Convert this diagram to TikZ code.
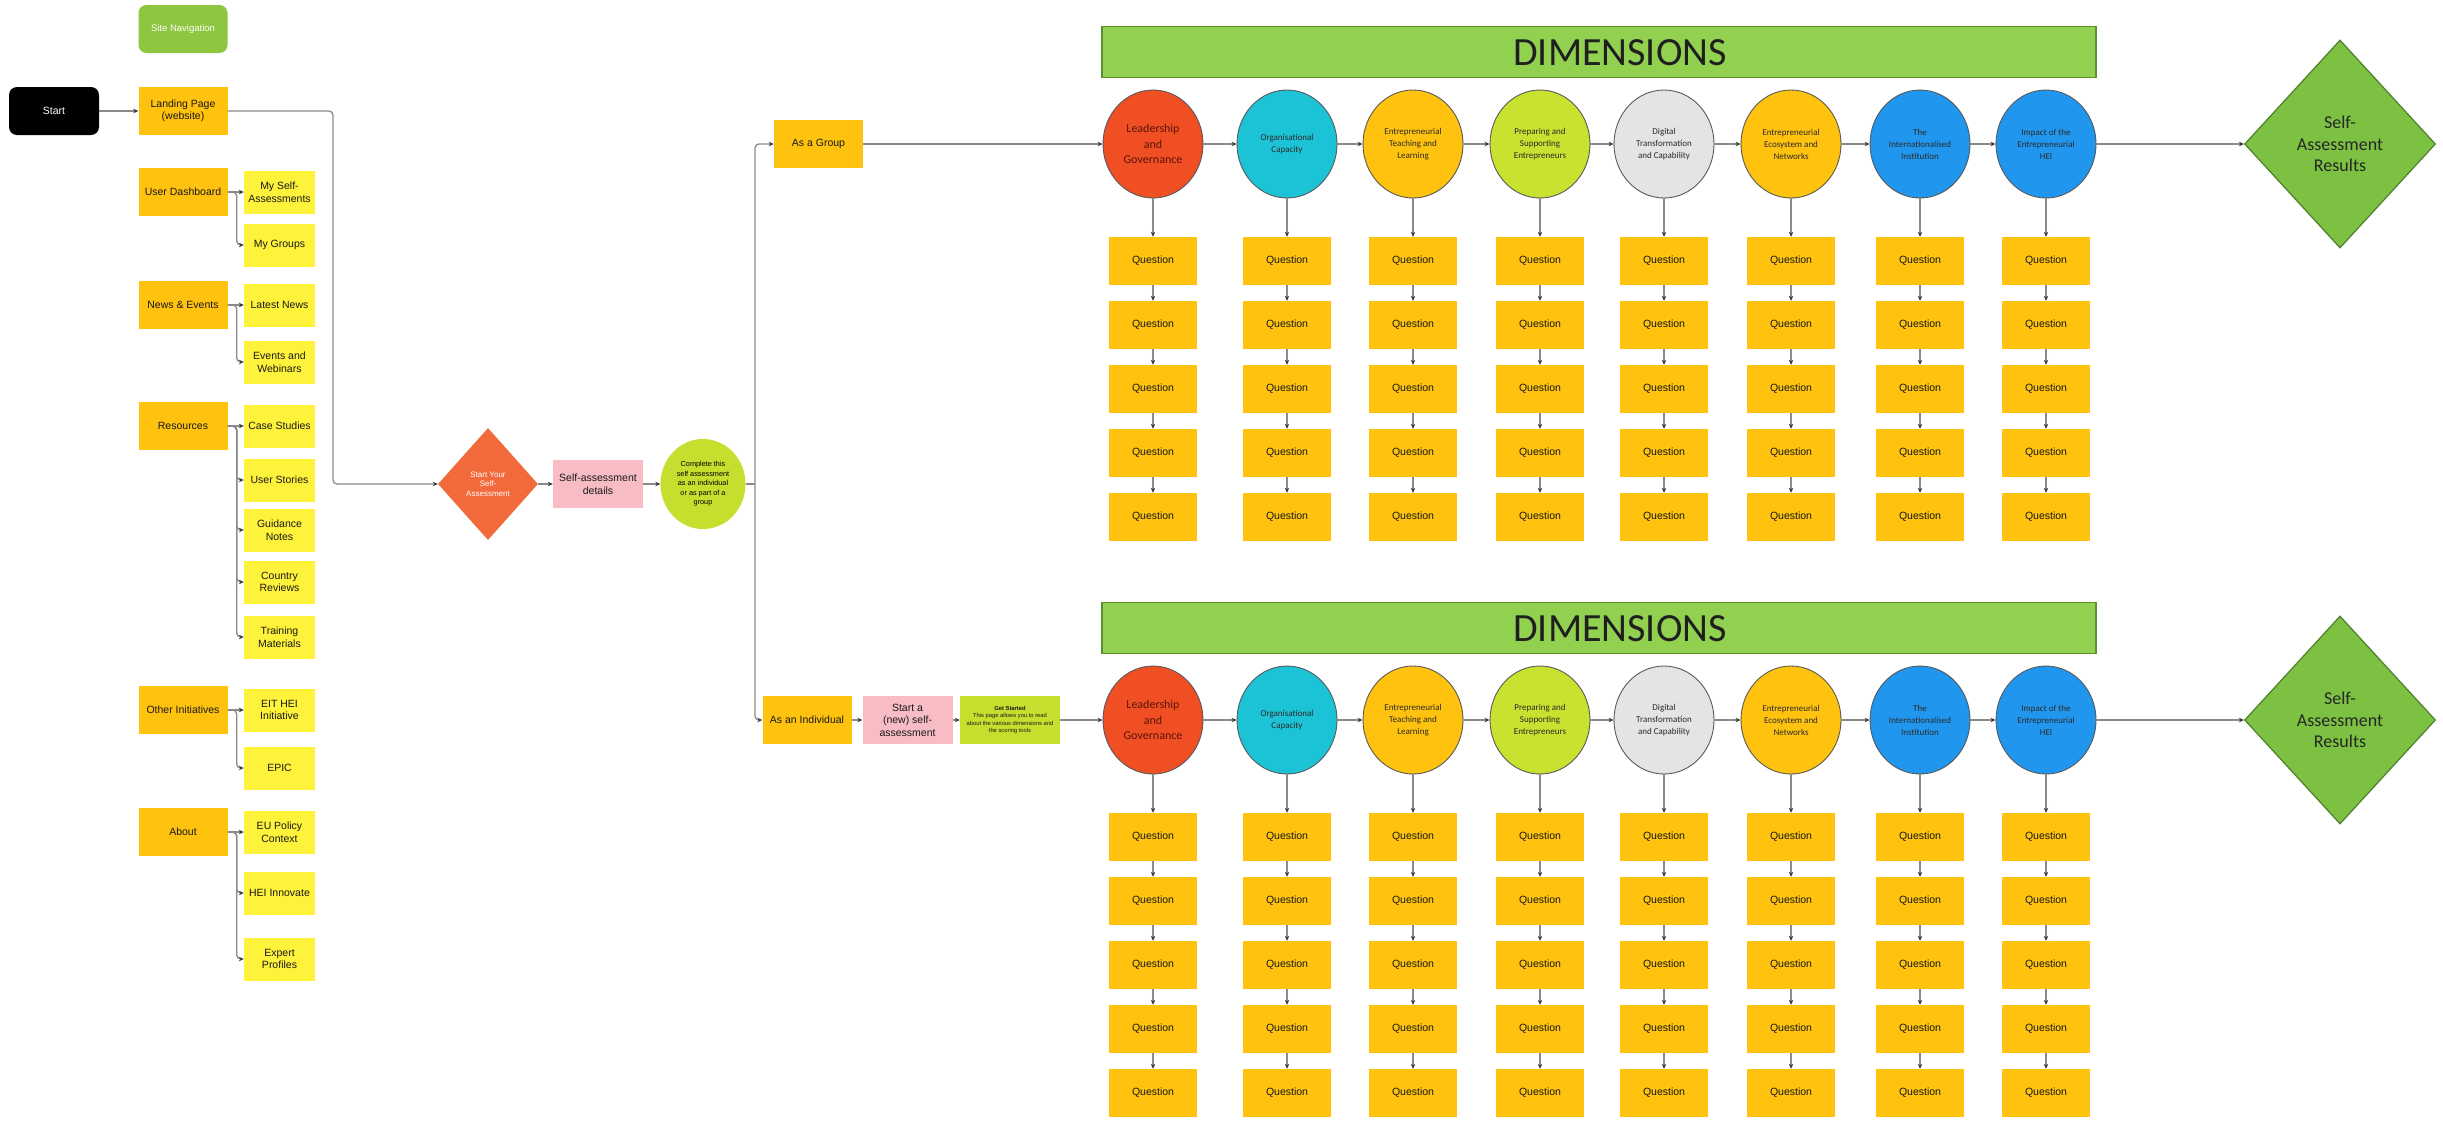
\documentclass[tikz,border=0pt]{standalone}
\usepackage{fontspec}
\setmainfont{Liberation Sans}
\newfontfamily\calibri{Carlito}
\usetikzlibrary{shapes.geometric,arrows.meta,calc}

\definecolor{gold}{HTML}{FFC20E}
\definecolor{lemon}{HTML}{FFF23A}
\definecolor{navgreen}{HTML}{8DC63F}
\definecolor{flame}{HTML}{F26A3B}
\definecolor{blush}{HTML}{F8BCC5}
\definecolor{lime}{HTML}{C6DF2E}
\definecolor{dimred}{HTML}{F04E23}
\definecolor{dimcyan}{HTML}{1CC3D6}
\definecolor{dimgold}{HTML}{FFC20E}
\definecolor{dimlime}{HTML}{C9E12F}
\definecolor{dimgray}{HTML}{E4E4E4}
\definecolor{dimblue}{HTML}{2196EE}
\definecolor{bargreen}{HTML}{92D050}
\definecolor{barrim}{HTML}{5E8F34}
\definecolor{resgreen}{HTML}{7CC142}
\definecolor{resrim}{HTML}{4F7F2A}
\definecolor{wire}{HTML}{8A8A8A}
\definecolor{tip}{HTML}{3A3A3A}
\definecolor{leadtxt}{HTML}{5C1508}
\definecolor{dimtxt}{HTML}{2A2A2A}

\tikzset{
  base/.style={rectangle, inner sep=1pt, align=center, text=black!90,
    font=\fontsize{10.5}{12.5}\selectfont},
  box/.style={base, fill=gold, minimum width=89pt, minimum height=48pt},
  sub/.style={base, fill=lemon, minimum width=71pt, minimum height=43pt},
  qbox/.style={base, fill=gold, minimum width=88pt, minimum height=48pt},
  pinkbox/.style={base, fill=blush, minimum width=90pt, minimum height=48pt},
  startbox/.style={base, fill=black, text=white, rounded corners=8pt,
    minimum width=90pt, minimum height=48pt},
  navbox/.style={base, fill=navgreen, text=white, rounded corners=8pt,
    minimum width=89pt, minimum height=48pt, font=\fontsize{9.5}{11}\selectfont},
  dim/.style={ellipse, draw=black!65, line width=0.9pt, minimum width=100pt,
    minimum height=108pt, inner sep=0pt, align=center},
  bar/.style={rectangle, fill=bargreen, draw=barrim, line width=1.2pt,
    minimum width=994pt, minimum height=51pt},
  bartitle/.style={inner sep=0pt, text=black!88,
    font=\calibri\fontsize{40}{44}\selectfont},
  result/.style={diamond, fill=resgreen, draw=resrim, line width=1.2pt,
    minimum width=191pt, minimum height=208pt, inner sep=0pt, align=center,
    text=black!85, font=\calibri\fontsize{18}{21.5}\selectfont},
  conn/.style={draw=wire, line width=1.3pt, rounded corners=4pt},
  arr/.style={conn, -{Stealth[length=5pt,width=4.5pt,color=tip]}},
}

% one row of dimensions: circles, question chains, title bar and result
\newcommand\dimrow[3]{%
  \node[bar] (#1bar) at (1599,#2-92) {};
  \node[bartitle] (#1bartitle) at (1620,#2-91) {DIMENSIONS};
  \foreach \k/\x/\c/\tc/\fs/\ls/\t in {
    1/1153/dimred/leadtxt/12/15.5/{Leadership\\and\\Governance},
    2/1287/dimcyan/dimtxt/9/12/{Organisational\\Capacity},
    3/1413/dimgold/dimtxt/9/12/{Entrepreneurial\\Teaching and\\Learning},
    4/1540/dimlime/dimtxt/9/12/{Preparing and\\Supporting\\Entrepreneurs},
    5/1664/dimgray/dimtxt/9/12/{Digital\\Transformation\\and Capability},
    6/1791/dimgold/dimtxt/9/12/{Entrepreneurial\\Ecosystem and\\Networks},
    7/1920/dimblue/dimtxt/9/12/{The\\Internationalised\\Institution},
    8/2046/dimblue/dimtxt/9/12/{Impact of the\\Entrepreneurial\\HEI}}{
    \node[dim, fill=\c, text=\tc, font={\calibri\fontsize{\fs}{\ls}\selectfont}]
      (#1c\k) at (\x,#2) {\t};
    \foreach \r in {1,...,5}{
      \node[qbox] (#1q\k-\r) at (\x,{#3+64*(\r-1)}) {Question};
    }
    \draw[arr] (#1c\k) -- (#1q\k-1);
    \foreach \r [count=\n from 2] in {1,...,4}{
      \draw[arr] (#1q\k-\r) -- (#1q\k-\n);
    }
  }
  \foreach \k [count=\n from 2] in {1,...,7}{
    \draw[arr] (#1c\k) -- (#1c\n);
  }
  \node[result] (#1res) at (2340,#2) {Self-\\Assessment\\Results};
  \draw[arr] (#1c8) -- (#1res);
}

\begin{document}
\begin{tikzpicture}[x=1pt,y=-1pt]
\fill[white] (0,0) rectangle (2443,1120);
\useasboundingbox (0,0) rectangle (2443,1120);

% site navigation tree
\node[navbox] (nav) at (183,29) {Site Navigation};
\node[startbox] (start) at (54,111) {Start};
\node[box] (landing) at (183,111) {Landing Page\\(website)};

\node[box] (dash) at (183,192) {User Dashboard};
\node[sub] (mysa) at (279.5,192) {My Self-\\Assessments};
\node[sub] (mygr) at (279.5,245) {My Groups};

\node[box] (news) at (183,305) {News \& Events};
\node[sub] (latest) at (279.5,305) {Latest News};
\node[sub] (events) at (279.5,362) {Events and\\Webinars};

\node[box] (resources) at (183,426) {Resources};
\node[sub] (cases) at (279.5,426) {Case Studies};
\node[sub] (stories) at (279.5,480) {User Stories};
\node[sub] (guide) at (279.5,530) {Guidance\\Notes};
\node[sub] (country) at (279.5,582) {Country\\Reviews};
\node[sub] (train) at (279.5,637) {Training\\Materials};

\node[box] (other) at (183,710) {Other Initiatives};
\node[sub] (eit) at (279.5,710) {EIT HEI\\Initiative};
\node[sub] (epic) at (279.5,768) {EPIC};

\node[box] (about) at (183,832) {About};
\node[sub] (policy) at (279.5,832) {EU Policy\\Context};
\node[sub] (innov) at (279.5,893) {HEI Innovate};
\node[sub] (expert) at (279.5,959) {Expert\\Profiles};

\draw[arr] (start) -- (landing);
\draw[arr] (dash) -- (mysa);
\draw[arr] (dash.east) -- ++(9,0) |- (mygr.west);
\draw[arr] (news) -- (latest);
\draw[arr] (news.east) -- ++(9,0) |- (events.west);
\draw[arr] (resources) -- (cases);
\foreach \c in {stories,guide,country,train}
  \draw[arr] (resources.east) -- ++(9,0) |- (\c.west);
\draw[arr] (other) -- (eit);
\draw[arr] (other.east) -- ++(9,0) |- (epic.west);
\draw[arr] (about) -- (policy);
\foreach \c in {innov,expert}
  \draw[arr] (about.east) -- ++(9,0) |- (\c.west);

% self-assessment entry
\node[diamond, fill=flame, text=white, minimum width=100pt, minimum height=112pt,
  inner sep=0pt, align=center, font=\fontsize{8}{9.7}\selectfont]
  (begin) at (488,484) {Start Your\\Self-\\Assessment};
\node[pinkbox] (details) at (598,484) {Self-assessment\\details};
\node[ellipse, fill=lime, minimum width=85pt, minimum height=90pt, inner sep=0pt,
  align=center, font=\fontsize{7.3}{9.5}\selectfont]
  (cmp) at (703,484) {Complete this\\self assessment\\as an individual\\or as part of a\\group};

\coordinate (navturn) at (333,111);
\draw[arr] (landing.east) -- (navturn) |- (begin.west);
\draw[arr] (begin) -- (details);
\draw[arr] (details) -- (cmp);

% group / individual split
\node[box] (grp) at (818.5,144) {As a Group};
\node[box] (ind) at (807,720) {As an Individual};
\node[pinkbox] (newsa) at (907.5,720) {Start a\\(new) self-\\assessment};
\node[base, fill=lime, minimum width=100pt, minimum height=48pt,
  font=\fontsize{5.8}{7.6}\selectfont]
  (getstart) at (1010,720) {{\bfseries Get Started}\\This page allows you to read\\about the various dimensions and\\the scoring tools};

\coordinate (fork) at (755,484);
\draw[conn] (cmp.east) -- (fork);
\draw[arr] (fork) |- (grp.west);
\draw[arr] (fork) |- (ind.west);
\draw[arr] (ind) -- (newsa);
\draw[arr] (newsa) -- (getstart);

% the two dimension rows
\dimrow{u}{144}{261}
\dimrow{l}{720}{837}

\draw[arr] (grp) -- (uc1);
\draw[arr] (getstart) -- (lc1);
\end{tikzpicture}
\end{document}
